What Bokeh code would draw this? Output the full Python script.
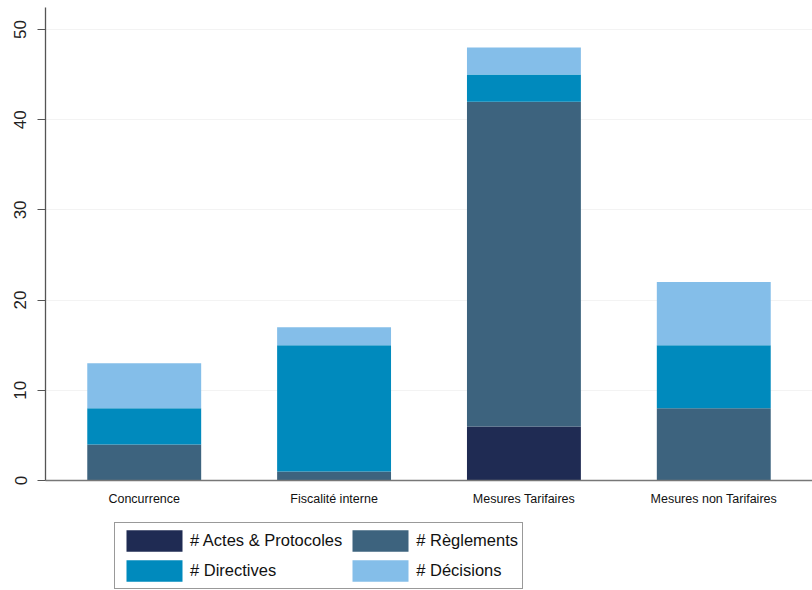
from bokeh.plotting import figure
from bokeh.models import FactorRange, Range1d, Legend, FixedTicker
from bokeh.layouts import column
from bokeh.embed import file_html
from bokeh.resources import INLINE

categories = ["Concurrence", "Fiscalité interne", "Mesures Tarifaires", "Mesures non Tarifaires"]
actes = [0, 0, 6, 0]
reglements = [4, 1, 36, 8]
directives = [4, 14, 3, 7]
decisions = [5, 2, 3, 7]
series_keys = ["actes", "reglements", "directives", "decisions"]
series_labels = ["# Actes & Protocoles", "# Règlements", "# Directives", "# Décisions"]
colors = ["#1f2b53", "#3d637e", "#008abd", "#84bee9"]
y_ticks = [0, 10, 20, 30, 40, 50]
legend_order = [0, 2, 1, 3]  # column-major fill -> rows: Actes/Règlements, Directives/Décisions

FONT = "Liberation Sans"

data = dict(cat=categories, actes=actes, reglements=reglements,
            directives=directives, decisions=decisions)

p = figure(x_range=FactorRange(*categories, range_padding=0.02, range_padding_units="absolute"),
           y_range=Range1d(0, 52.44), width=812, height=520,
           output_backend="svg", toolbar_location=None,
           min_border_left=45, min_border_right=0, min_border_top=7, min_border_bottom=40)

rs = p.vbar_stack(series_keys, x="cat", width=0.6, color=colors, source=data, line_color=None)

p.outline_line_color = None
p.xgrid.visible = False
p.ygrid.grid_line_color = "#f3f3f3"
p.ygrid.ticker = FixedTicker(ticks=y_ticks)

p.yaxis.ticker = FixedTicker(ticks=y_ticks)
p.yaxis.major_label_orientation = "vertical"
p.yaxis.major_tick_out = 8
p.yaxis.major_tick_in = 0
p.yaxis.minor_tick_line_color = None
p.yaxis.axis_line_color = "#555555"
p.yaxis.axis_line_width = 1.3
p.yaxis.major_tick_line_color = "#555555"
p.yaxis.major_label_text_font = FONT
p.yaxis.major_label_text_font_size = "17px"
p.yaxis.major_label_text_color = "#222222"
p.yaxis.major_label_standoff = 11

p.xaxis.major_tick_line_color = None
p.xaxis.minor_tick_line_color = None
p.xaxis.axis_line_color = "#777777"
p.xaxis.axis_line_width = 1.5
p.xaxis.major_label_text_font = FONT
p.xaxis.major_label_text_font_size = "12.5px"
p.xaxis.major_label_text_color = "#111111"
p.xaxis.major_label_standoff = 5

# legend panel (separate strip below the chart); its bars lie outside its y range
q = figure(x_range=FactorRange(*categories), y_range=Range1d(1000, 1001),
           width=812, height=70, output_backend="svg", toolbar_location=None,
           min_border=0)
q.axis.visible = False
q.grid.visible = False
q.outline_line_color = None
qrs = q.vbar_stack(series_keys, x="cat", width=0.6, color=colors, source=data, line_color=None)

legend = Legend(items=[(series_labels[i], [qrs[i]]) for i in legend_order],
                ncols=2, location=(69, 1),
                glyph_width=70, glyph_height=27, label_standoff=1,
                spacing=3, padding=4, margin=0,
                label_text_font=FONT, label_text_font_size="16.5px",
                label_text_color="#111111",
                border_line_color="#333333", border_line_width=1.2,
                background_fill_color="white")
q.add_layout(legend, "center")

layout = column(p, q, spacing=0)
open("out.html", "w").write(file_html(layout, INLINE))
